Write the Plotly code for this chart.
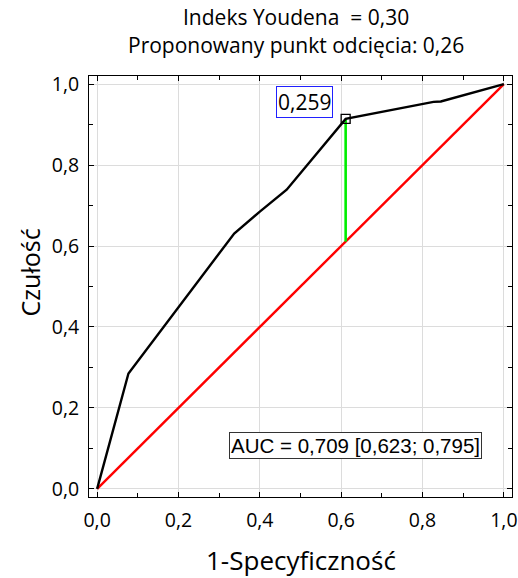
import plotly.graph_objects as go

# ROC curve points (1-specificity, sensitivity)
fpr = [0.0, 0.077, 0.337, 0.40, 0.466, 0.611, 0.827, 0.845, 1.0]
tpr = [0.0, 0.285, 0.631, 0.685, 0.739, 0.914, 0.956, 0.957, 1.0]
diag = [0.0, 1.0]
cut_x = 0.611
cut_y = 0.914
cut_label = "0,259"
auc_text = "AUC = 0,709 [0,623; 0,795]"
title1 = "Indeks Youdena  = 0,30"
title2 = "Proponowany punkt odcięcia: 0,26"
ticks = [0.0, 0.2, 0.4, 0.6, 0.8, 1.0]

fig = go.Figure()
fig.add_trace(go.Scatter(x=diag, y=diag, mode="lines",
                         line=dict(color="#ff0000", width=2.4), showlegend=False))
fig.add_trace(go.Scatter(x=[cut_x, cut_x], y=[cut_x, cut_y], mode="lines",
                         line=dict(color="#00ee00", width=2.6), showlegend=False))
fig.add_trace(go.Scatter(x=fpr, y=tpr, mode="lines",
                         line=dict(color="black", width=2.4), showlegend=False))
fig.add_trace(go.Scatter(x=[cut_x], y=[cut_y], mode="markers",
                         marker=dict(symbol="square-open", size=9, color="black",
                                     line=dict(width=1.3)), showlegend=False))

font_main = "Open Sans, Noto Sans, sans-serif"
axis_common = dict(range=[-0.02, 1.02], tickvals=ticks, tickformat=".1f",
                   ticks="inside", ticklen=5, tickcolor="black", showline=True,
                   linecolor="black", linewidth=1, mirror="ticks",
                   showgrid=True, gridcolor="#dcdcdc", gridwidth=1, zeroline=False,
                   minor=dict(ticks="inside", dtick=0.1, ticklen=4, tickcolor="black",
                              showgrid=False),
                   tickfont=dict(family=font_main, size=19.5, color="black"),
                   fixedrange=True, automargin=False)
fig.update_xaxes(**axis_common, ticklabelstandoff=6)
fig.update_yaxes(**axis_common, ticklabelstandoff=5)

annotations = [
    dict(text=title1, x=0.49, y=1.140, xref="paper", yref="paper", showarrow=False,
         xanchor="center", yanchor="middle",
         font=dict(family=font_main, size=21, color="black")),
    dict(text=title2, x=0.49, y=1.074, xref="paper", yref="paper", showarrow=False,
         xanchor="center", yanchor="middle",
         font=dict(family=font_main, size=21, color="black")),
    dict(text="1-Specyficzność", x=0.50, y=-0.150, xref="paper", yref="paper",
         showarrow=False, xanchor="center", yanchor="middle",
         font=dict(family=font_main, size=26, color="black")),
    dict(text="Czułość", x=-0.139, y=0.534, xref="paper", yref="paper", textangle=-90,
         showarrow=False, xanchor="center", yanchor="middle",
         font=dict(family=font_main, size=25, color="black")),
    dict(text=cut_label, x=0.510, y=0.957, xref="x", yref="y", showarrow=False,
         xanchor="center", yanchor="middle",
         bordercolor="#2020ff", borderwidth=1, borderpad=1, bgcolor="white",
         font=dict(family=font_main, size=21, color="black")),
    dict(text=auc_text, x=0.635, y=0.108, xref="x", yref="y", showarrow=False,
         xanchor="center", yanchor="middle",
         bordercolor="#333333", borderwidth=1, borderpad=1, bgcolor="white",
         font=dict(family="Liberation Sans, Arial, sans-serif", size=20.5, color="black")),
]

fig.update_layout(width=518, height=578, margin=dict(l=89, r=6, t=76, b=81),
                  plot_bgcolor="white", paper_bgcolor="white", separators=",.",
                  annotations=annotations, showlegend=False)
fig.write_html("out.html")
